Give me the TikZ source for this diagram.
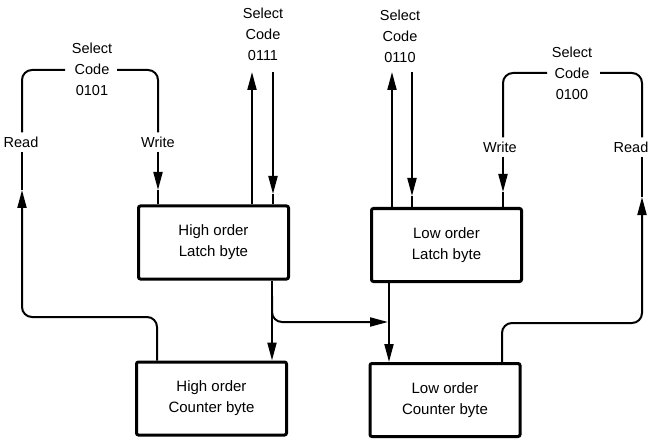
\documentclass[tikz,border=0pt]{standalone}
\usepackage{fontspec}
\setmainfont{Liberation Sans}
\usetikzlibrary{arrows.meta}
\newcommand\labfs{\fontsize{14.5}{21}\selectfont}
\newcommand\boxfs{\fontsize{15}{21}\selectfont}
\begin{document}
\begin{tikzpicture}[x=1pt,y=-1pt,
  box/.style={draw, line width=3pt, rounded corners=2pt, minimum width=150pt, minimum height=73pt, align=center, font=\boxfs, inner sep=0pt},
  lbl/.style={align=center, font=\labfs, inner sep=0pt},
  rw/.style={font=\labfs, inner sep=4pt},
  wire/.style={line width=2pt, rounded corners=10pt},
  arr/.style={wire, -{Triangle[length=18pt,width=9pt]}}
]
\useasboundingbox (0,0) rectangle (651,441);

% boxes
\node[box] (HL) at (213.5,242.5) {High order\\Latch byte};
\node[box] (HC) at (211.5,398.5) {High order\\Counter byte};
\node[box] (LL) at (446.5,245) {Low order\\Latch byte};
\node[box] (LC) at (445,400) {Low order\\Counter byte};

% select code labels
\node[lbl] (s1) at (92,69) {Select\\Code\\0101};
\node[lbl] (s2) at (263,34) {Select\\Code\\0111};
\node[lbl] (s3) at (400,36) {Select\\Code\\0110};
\node[lbl] (s4) at (572,73) {Select\\Code\\0100};

% read / write labels
\node[rw] (rd1) at (21,142) {Read};
\node[rw] (wr1) at (158,142) {Write};
\node[rw] (wr2) at (500,147) {Write};
\node[rw] (rd2) at (631,147) {Read};

% left loop (0101)
\coordinate (l1a) at (65,70);
\coordinate (l1b) at (117,70);
\coordinate (rdx) at (22,0);
\coordinate (wrx) at (158,0);
\draw[wire] (l1a) -| (rdx |- rd1.north);
\draw[wire] (l1b) -| (wrx |- wr1.north);
\coordinate (wt1) at (158,190);
\draw[arr] (wrx |- wr1.south) -- (wt1);
\draw[wire] (wt1) -- (wrx |- HL.north);
\coordinate (rt1) at (22,190);
\coordinate (hy1) at (0,317);
\draw[arr] ([xshift=-1pt]wrx |- HC.north) |- (rdx |- hy1) -- (rt1);
\draw[wire] (rt1) -- (rdx |- rd1.south);

% 0111
\coordinate (u2) at (252,72);
\coordinate (d2) at (273,72);
\coordinate (d2t) at (273,194);
\draw[arr] (u2 |- HL.north) -- (u2);
\draw[arr] (d2) -- (d2t);
\draw[wire] (d2t) -- (d2 |- HL.north);

% 0110
\coordinate (u3) at (392,72);
\coordinate (d3) at (412,72);
\coordinate (d3t) at (412,196);
\draw[arr] (u3 |- LL.north) -- (u3);
\draw[arr] (d3) -- (d3t);
\draw[wire] (d3t) -- (d3 |- LL.north);

% right loop (0100)
\coordinate (l4a) at (547,73);
\coordinate (l4b) at (600,73);
\coordinate (wr2x) at (503,0);
\coordinate (rd2x) at (642,0);
\draw[wire] (l4a) -| (wr2x |- wr2.north);
\draw[wire] (l4b) -| (rd2x |- rd2.north);
\coordinate (wt2) at (503,192);
\draw[arr] (wr2x |- wr2.south) -- (wt2);
\draw[wire] (wt2) -- (wr2x |- LL.north);
\coordinate (rt2) at (642,197);
\coordinate (hy2) at (0,323);
\draw[arr] ([xshift=-1pt]wr2x |- LC.north) |- (rd2x |- hy2) -- (rt2);
\draw[wire] (rt2) -- (rd2x |- rd2.south);

% middle connections
\coordinate (mx1) at (272,0);
\coordinate (mx2) at (389,0);
\coordinate (br) at (272,296);
\coordinate (hy3) at (0,322);
\draw[arr] (mx1 |- HL.south) -- (mx1 |- HC.north);
\draw[arr] (br) |- ([xshift=-1pt]mx2 |- hy3);
\draw[arr] (mx2 |- LL.south) -- (mx2 |- LC.north);
\end{tikzpicture}
\end{document}
